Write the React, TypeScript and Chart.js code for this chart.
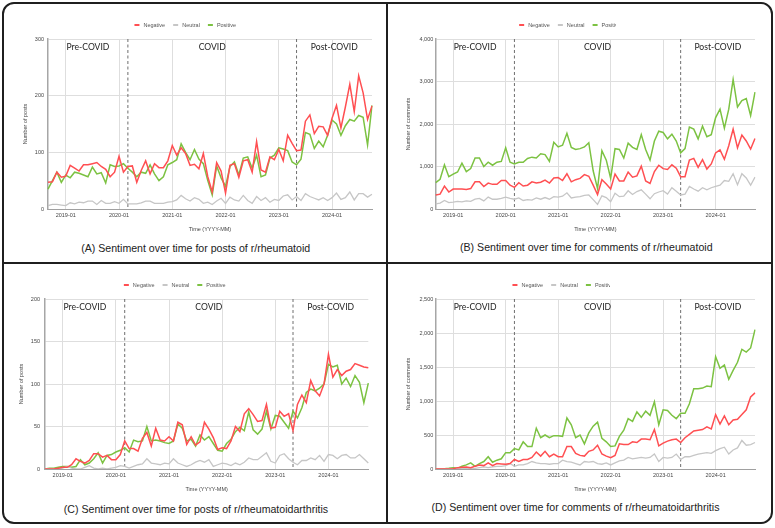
import { useEffect, useRef } from 'react';
import { Chart, registerables } from 'chart.js';

Chart.register(...registerables);

// Monthly buckets from 2018-09 through 2024-10
const startYear = 2018;
const startMonth = 9;
const monthCount = 74;
const months: string[] = Array.from({ length: monthCount }, (_, i) => {
  const m = startMonth - 1 + i;
  const y = startYear + Math.floor(m / 12);
  return `${y}-${String((m % 12) + 1).padStart(2, '0')}`;
});

const yearTicks = ['2019-01', '2020-01', '2021-01', '2022-01', '2023-01', '2024-01'];
const covidStart = '2020-03';
const postCovidStart = '2023-05';
const periodNames = ['Pre-COVID', 'COVID', 'Post-COVID'];
const seriesNames = ['Negative', 'Neutral', 'Positive'];

// r/rheumatoid posts
const raPostsNegative = [47, 48, 65, 56, 58, 77, 72, 67, 78, 78, 80, 82, 75, 70, 57, 65, 93, 65, 75, 76, 47, 68, 85, 62, 80, 73, 73, 85, 112, 95, 108, 98, 77, 79, 71, 98, 57, 30, 82, 67, 28, 77, 80, 56, 85, 87, 65, 119, 69, 65, 92, 87, 105, 85, 130, 116, 103, 104, 155, 166, 133, 146, 145, 130, 160, 183, 143, 180, 220, 172, 235, 205, 158, 182];
const raPostsNeutral = [6, 8, 8, 7, 6, 11, 9, 12, 11, 14, 14, 8, 15, 10, 10, 13, 10, 17, 9, 9, 9, 11, 14, 14, 10, 10, 10, 12, 13, 16, 24, 18, 14, 20, 17, 10, 12, 8, 14, 19, 10, 21, 16, 14, 24, 15, 10, 22, 15, 20, 12, 17, 15, 23, 25, 16, 22, 15, 27, 22, 19, 16, 20, 15, 20, 28, 17, 20, 30, 16, 27, 27, 21, 26];
const raPostsPositive = [35, 50, 65, 47, 60, 55, 65, 63, 60, 57, 74, 62, 64, 46, 78, 75, 76, 80, 72, 65, 57, 65, 63, 78, 62, 50, 57, 78, 82, 87, 115, 100, 87, 105, 88, 80, 50, 25, 76, 55, 40, 75, 83, 60, 90, 92, 72, 95, 57, 60, 90, 95, 108, 106, 103, 83, 78, 88, 135, 132, 107, 120, 110, 130, 157, 150, 130, 147, 158, 155, 165, 162, 113, 183];

// r/rheumatoid comments
const raCommentsNegative = [330, 350, 540, 400, 470, 470, 470, 460, 480, 640, 640, 530, 610, 580, 580, 670, 670, 560, 510, 620, 540, 560, 640, 610, 630, 680, 610, 730, 740, 670, 830, 640, 690, 720, 810, 770, 560, 340, 690, 590, 470, 820, 660, 660, 870, 750, 780, 1010, 660, 600, 880, 1030, 950, 930, 1040, 960, 760, 760, 1150, 1190, 980, 1160, 940, 1060, 1320, 1390, 1170, 1490, 1880, 1440, 1740, 1600, 1410, 1660];
const raCommentsNeutral = [120, 140, 200, 150, 160, 180, 170, 190, 180, 230, 250, 190, 280, 230, 230, 250, 280, 250, 230, 260, 200, 220, 210, 260, 230, 270, 230, 290, 280, 300, 380, 260, 280, 290, 320, 330, 220, 110, 310, 270, 170, 370, 290, 300, 430, 340, 410, 450, 350, 240, 360, 400, 430, 350, 500, 420, 330, 350, 530, 470, 420, 500, 450, 500, 530, 560, 670, 650, 830, 570, 830, 730, 560, 750];
const raCommentsPositive = [620, 700, 1040, 760, 820, 870, 1080, 880, 950, 1200, 1200, 1000, 1100, 1030, 1100, 1120, 1440, 1100, 1060, 1100, 1100, 1190, 1220, 1200, 1300, 1280, 1120, 1570, 1460, 1500, 1780, 1450, 1400, 1420, 1460, 1560, 900, 480, 1370, 1150, 720, 1420, 1400, 1200, 1550, 1450, 1400, 1750, 1400, 1150, 1600, 1830, 1800, 1650, 1760, 1600, 1320, 1420, 1930, 1880, 1650, 1950, 1700, 1750, 2150, 2350, 1900, 2350, 3050, 2400, 2550, 2600, 2200, 2750];

// r/rheumatoidarthritis posts
const raaPostsNegative = [0, 0, 0, 1, 2, 2, 5, 12, 9, 7, 10, 18, 18, 14, 16, 11, 11, 17, 33, 24, 24, 21, 36, 43, 27, 48, 34, 33, 38, 33, 55, 52, 29, 38, 28, 32, 55, 47, 37, 23, 25, 24, 33, 50, 44, 65, 71, 64, 56, 57, 76, 48, 49, 68, 62, 65, 45, 76, 87, 78, 104, 92, 86, 100, 135, 108, 117, 110, 115, 117, 124, 122, 120, 119];
const raaPostsNeutral = [0, 0, 0, 0, 1, 3, 1, 0, 0, 2, 4, 1, 0, 1, 0, 1, 2, 4, 3, 1, 3, 5, 6, 12, 7, 6, 5, 7, 6, 12, 7, 5, 3, 5, 8, 10, 8, 11, 3, 5, 7, 6, 4, 7, 5, 8, 13, 11, 11, 15, 19, 9, 7, 16, 18, 12, 8, 5, 10, 10, 13, 11, 16, 9, 17, 16, 12, 16, 17, 13, 13, 17, 12, 7];
const raaPostsPositive = [0, 1, 1, 2, 3, 3, 2, 3, 11, 5, 7, 12, 19, 7, 16, 17, 20, 22, 25, 20, 34, 32, 33, 50, 33, 34, 33, 31, 30, 33, 53, 48, 33, 35, 27, 40, 34, 38, 30, 22, 21, 30, 35, 44, 49, 45, 67, 46, 41, 47, 68, 47, 63, 62, 55, 48, 68, 60, 72, 90, 94, 92, 95, 100, 123, 120, 122, 100, 107, 97, 110, 102, 78, 101];

// r/rheumatoidarthritis comments
const raaCommentsNegative = [0, 0, 0, 0, 5, 20, 25, 30, 20, 40, 60, 50, 90, 50, 80, 75, 70, 80, 140, 110, 140, 140, 170, 250, 190, 260, 180, 220, 180, 180, 330, 330, 230, 200, 190, 260, 280, 350, 220, 190, 165, 200, 370, 360, 360, 400, 390, 440, 440, 430, 580, 340, 380, 410, 430, 440, 390, 460, 510, 560, 570, 580, 620, 590, 800, 660, 780, 650, 720, 730, 800, 870, 1060, 1120];
const raaCommentsNeutral = [0, 0, 0, 0, 0, 5, 10, 10, 5, 10, 20, 30, 20, 30, 40, 40, 50, 80, 40, 60, 60, 80, 110, 90, 80, 80, 70, 80, 80, 130, 110, 100, 80, 60, 110, 100, 110, 80, 70, 90, 60, 90, 120, 130, 170, 150, 160, 170, 160, 170, 220, 110, 170, 160, 170, 220, 140, 180, 180, 200, 220, 230, 240, 230, 270, 300, 320, 220, 280, 310, 420, 350, 360, 390];
const raaCommentsPositive = [0, 0, 5, 10, 20, 10, 40, 60, 90, 40, 80, 110, 180, 100, 130, 150, 240, 240, 300, 280, 400, 330, 330, 600, 460, 500, 460, 490, 490, 480, 750, 650, 460, 500, 370, 530, 630, 690, 450, 400, 330, 340, 480, 570, 740, 700, 840, 760, 850, 790, 990, 650, 870, 860, 790, 740, 820, 820, 960, 1180, 1180, 1190, 1220, 1210, 1650, 1480, 1530, 1320, 1450, 1570, 1760, 1720, 1780, 2050];

const COLORS = ['#ff4f52', '#c6c6c6', '#7cc242'];
const FONT = "'Liberation Sans', Arial, Helvetica, sans-serif";
const SMALL = 5.5;

type PanelSpec = {
  left: number;
  top: number;
  width: number;
  height: number;
  areaLeft: number;
  areaRight: number;
  yMax: number;
  yStep: number;
  yTitle: string;
  yTitlePad: number;
  tickPad: number;
  series: number[][];
  legendX: number;
  legendClip?: number;
  caption: string;
  captionX: number;
  captionY: number;
};

const panels: PanelSpec[] = [
  {
    left: 0, top: 0, width: 387, height: 240, areaLeft: 48, areaRight: 372,
    yMax: 300, yStep: 100, yTitle: 'Number of posts', yTitlePad: 21.7, tickPad: 4,
    series: [raPostsNegative, raPostsNeutral, raPostsPositive],
    legendX: 185.3,
    caption: '(A) Sentiment over time for posts of r/rheumatoid', captionX: 195.7, captionY: 248,
  },
  {
    left: 388, top: 0, width: 385, height: 240, areaLeft: 47.7, areaRight: 367,
    yMax: 4000, yStep: 1000, yTitle: 'Number of comments', yTitlePad: 17, tickPad: 2.4,
    series: [raCommentsNegative, raCommentsNeutral, raCommentsPositive],
    legendX: 182, legendClip: 228,
    caption: '(B) Sentiment over time for comments of r/rheumatoid', captionX: 586.3, captionY: 247,
  },
  {
    left: 0, top: 260, width: 387, height: 240, areaLeft: 45, areaRight: 368.3,
    yMax: 200, yStep: 50, yTitle: 'Number of posts', yTitlePad: 18.4, tickPad: 5,
    series: [raaPostsNegative, raaPostsNeutral, raaPostsPositive],
    legendX: 174.7,
    caption: '(C) Sentiment over time for posts of r/rheumatoidarthritis', captionX: 196, captionY: 509,
  },
  {
    left: 388, top: 260, width: 385, height: 240, areaLeft: 47.7, areaRight: 367,
    yMax: 2500, yStep: 500, yTitle: 'Number of comments', yTitlePad: 17, tickPad: 2.4,
    series: [raaCommentsNegative, raaCommentsNeutral, raaCommentsPositive],
    legendX: 175.3, legendClip: 222,
    caption: '(D) Sentiment over time for comments of r/rheumatoidarthritis', captionX: 575.5, captionY: 507,
  },
];

// Dashed period boundaries and the period names above the lines
const periodPlugin = {
  id: 'periods',
  beforeDatasetsDraw(chart: any) {
    const { ctx, chartArea } = chart;
    const x = chart.scales.x;
    ctx.save();
    ctx.strokeStyle = '#6e6e6e';
    ctx.lineWidth = 1;
    ctx.setLineDash([3, 2.5]);
    [covidStart, postCovidStart].forEach((m) => {
      const px = x.getPixelForValue(months.indexOf(m));
      ctx.beginPath();
      ctx.moveTo(px, chartArea.top);
      ctx.lineTo(px, chartArea.bottom);
      ctx.stroke();
    });
    ctx.restore();
  },
  afterDatasetsDraw(chart: any) {
    const { ctx, chartArea } = chart;
    const x = chart.scales.x;
    const bounds = [
      chartArea.left,
      x.getPixelForValue(months.indexOf(covidStart)),
      x.getPixelForValue(months.indexOf(postCovidStart)),
      chartArea.right,
    ];
    ctx.save();
    ctx.font = '8.6px Lato, "Open Sans", sans-serif';
    ctx.fillStyle = '#1e1e1e';
    ctx.textAlign = 'center';
    ctx.textBaseline = 'middle';
    periodNames.forEach((name, i) => {
      ctx.fillText(name, (bounds[i] + bounds[i + 1]) / 2, chartArea.top + 8.5);
    });
    ctx.restore();
  },
};

// Compact series key drawn above the plot
const keyPlugin = {
  id: 'seriesKey',
  afterDraw(chart: any, _args: any, opts: any) {
    const { ctx } = chart;
    ctx.save();
    ctx.font = `${SMALL}px ${FONT}`;
    const marker = 5;
    const gap = 4;
    const spacing = 8;
    const widths = seriesNames.map((n) => ctx.measureText(n).width);
    const total = widths.reduce((s, w) => s + marker + gap + w, 0) + spacing * (seriesNames.length - 1);
    let cx = opts.centerX - total / 2;
    const y = opts.y;
    if (opts.clipX) {
      ctx.beginPath();
      ctx.rect(0, 0, opts.clipX, chart.height);
      ctx.clip();
    }
    ctx.textBaseline = 'middle';
    ctx.textAlign = 'left';
    seriesNames.forEach((name, i) => {
      ctx.fillStyle = COLORS[i];
      ctx.fillRect(cx, y - 1, marker, 2);
      cx += marker + gap;
      ctx.fillStyle = '#555';
      ctx.fillText(name, cx, y + 0.5);
      cx += widths[i] + spacing;
    });
    ctx.restore();
  },
};

function SentimentPanel({ spec }: { spec: PanelSpec }) {
  const ref = useRef<HTMLCanvasElement | null>(null);

  useEffect(() => {
    if (!ref.current) return;
    const tickFont = { family: FONT, size: SMALL };
    const chart = new Chart(ref.current, {
      type: 'line',
      data: {
        labels: months,
        datasets: spec.series.map((values, i) => ({
          label: seriesNames[i],
          data: values,
          borderColor: COLORS[i],
          backgroundColor: COLORS[i],
          borderWidth: i === 1 ? 1.3 : 1.5,
          pointRadius: 0,
          tension: 0,
          fill: false,
        })),
      },
      options: {
        responsive: false,
        animation: false,
        maintainAspectRatio: false,
        layout: { padding: { top: 39, left: 0, right: spec.width - spec.areaRight, bottom: 0 } },
        plugins: {
          legend: { display: false },
          tooltip: { enabled: false },
          seriesKey: { centerX: spec.legendX, y: 25, clipX: spec.legendClip },
        } as any,
        scales: {
          x: {
            type: 'category',
            grid: { color: '#dedede', lineWidth: 1, drawTicks: false },
            border: { color: '#a0a0a0', width: 1 },
            ticks: {
              autoSkip: false,
              maxRotation: 0,
              padding: 2.7,
              color: '#444',
              font: tickFont,
            },
            afterBuildTicks: (scale: any) => {
              scale.ticks = scale.ticks.filter((t: any) => yearTicks.includes(months[t.value]));
            },
            afterFit: (scale: any) => {
              scale.height = spec.height - 209;
            },
            title: {
              display: true,
              text: 'Time (YYYY-MM)',
              color: '#444',
              font: tickFont,
              padding: { top: 0, bottom: 7.7 },
            },
          },
          y: {
            min: 0,
            max: spec.yMax,
            grid: { color: '#dedede', lineWidth: 1, drawTicks: false },
            border: { color: '#a6a6a6', width: 1.5 },
            ticks: {
              stepSize: spec.yStep,
              padding: spec.tickPad,
              color: '#444',
              font: tickFont,
              callback: (v: any) => Number(v).toLocaleString('en-US'),
            },
            afterFit: (scale: any) => {
              scale.width = spec.areaLeft;
            },
            title: {
              display: true,
              text: spec.yTitle,
              color: '#444',
              font: tickFont,
              padding: { top: spec.yTitlePad, bottom: 0 },
            },
          },
        },
      },
      plugins: [periodPlugin, keyPlugin],
    } as any);
    return () => chart.destroy();
  }, [spec]);

  return (
    <>
      <canvas
        ref={ref}
        width={spec.width}
        height={spec.height}
        style={{
          position: 'absolute',
          left: spec.left,
          top: spec.top,
          width: spec.width,
          height: spec.height,
          display: 'block',
        }}
      />
      <div
        style={{
          position: 'absolute',
          left: spec.captionX,
          top: spec.captionY - 7,
          transform: 'translateX(-50%)',
          whiteSpace: 'nowrap',
          fontFamily: FONT,
          fontSize: 10.6,
          lineHeight: '14px',
          color: '#222',
        }}
      >
        {spec.caption}
      </div>
    </>
  );
}

export default function App() {
  const line = '#1f1f1f';
  return (
    <div
      style={{
        position: 'absolute',
        left: 0,
        top: 0,
        width: 775,
        height: 528,
        background: '#fff',
        overflow: 'hidden',
      }}
    >
      {panels.map((p, i) => (
        <SentimentPanel key={i} spec={p} />
      ))}
      <div
        style={{
          position: 'absolute',
          left: 2,
          top: 2,
          width: 771,
          height: 522,
          boxSizing: 'border-box',
          border: `2px solid ${line}`,
          borderRadius: 12,
          pointerEvents: 'none',
        }}
      />
      <div style={{ position: 'absolute', left: 386, top: 2, width: 2, height: 522, background: line }} />
      <div style={{ position: 'absolute', left: 2, top: 262, width: 771, height: 2, background: line }} />
    </div>
  );
}
